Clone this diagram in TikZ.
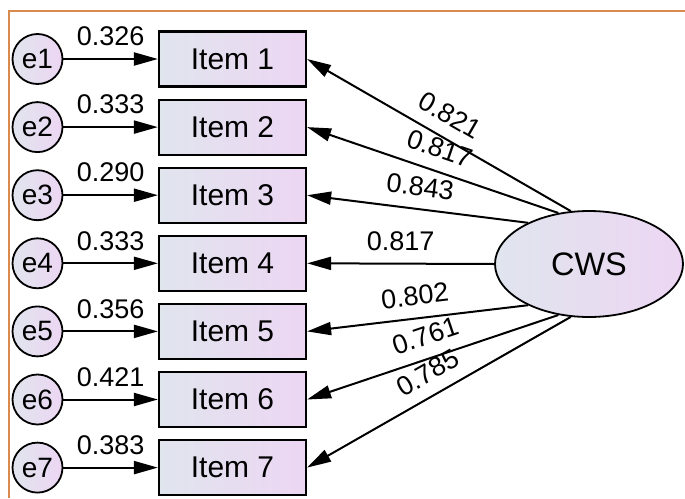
\documentclass[tikz,border=0pt]{standalone}
\usepackage{fontspec}
\setmainfont{Liberation Sans}
\usetikzlibrary{arrows.meta,shapes.geometric}
\definecolor{lgray}{RGB}{224,229,238}
\definecolor{lpink}{RGB}{237,214,243}
\definecolor{framecol}{RGB}{217,138,79}
\begin{document}
\begin{tikzpicture}[x=1pt,y=-1pt,
  box/.style={draw, line width=2.2pt, minimum width=147pt, minimum height=55pt, inner sep=0pt,
    left color=lgray, right color=lpink, font=\fontsize{30}{33}\selectfont},
  err/.style={circle, draw, line width=1.8pt, minimum size=50pt, inner sep=0pt,
    left color=lgray, right color=lpink, font=\fontsize{28}{31}\selectfont},
  lat/.style={ellipse, draw, line width=1.8pt, minimum width=188pt, minimum height=106pt, inner sep=0pt,
    left color=lgray, right color=lpink, font=\fontsize{32.5}{36}\selectfont},
  arr/.style={line width=2pt, -{Triangle[length=24pt,width=13pt]}},
  wt/.style={font=\fontsize{27}{30}\selectfont, midway, sloped, above, inner sep=1pt, outer sep=12pt}
]
\fill[white] (0,0) rectangle (685,498);
\useasboundingbox (0,0) rectangle (685,498);
\draw[framecol, line width=2pt] (685,10.5) -- (9,10.5) -- (9,498);

\foreach \i/\w in {1/0.326,2/0.333,3/0.290,4/0.333,5/0.356,6/0.421,7/0.383}{
  \node[err] (e\i) at (37.5,{59+68.1*(\i-1)}) {e\i};
  \node[box] (i\i) at (232.5,{59+68.1*(\i-1)}) {Item \i};
  \draw[arr] (e\i) -- (i\i) node[wt] {\w};
}

\node[lat] (cws) at (589,264) {CWS};

\draw[arr] (cws.109) -- (i1.east) node[wt] {0.821};
\draw[arr] (cws.121) -- (i2.east) node[wt] {0.817};
\draw[arr] (cws.146) -- (i3.east) node[wt] {0.843};
\draw[arr] (cws.180) -- (i4.east) node[wt] {0.817};
\draw[arr] (cws.214) -- (i5.east) node[wt] {0.802};
\draw[arr] (cws.239) -- (i6.east) node[wt] {0.761};
\draw[arr] (cws.251) -- (i7.east) node[wt] {0.785};
\end{tikzpicture}
\end{document}
